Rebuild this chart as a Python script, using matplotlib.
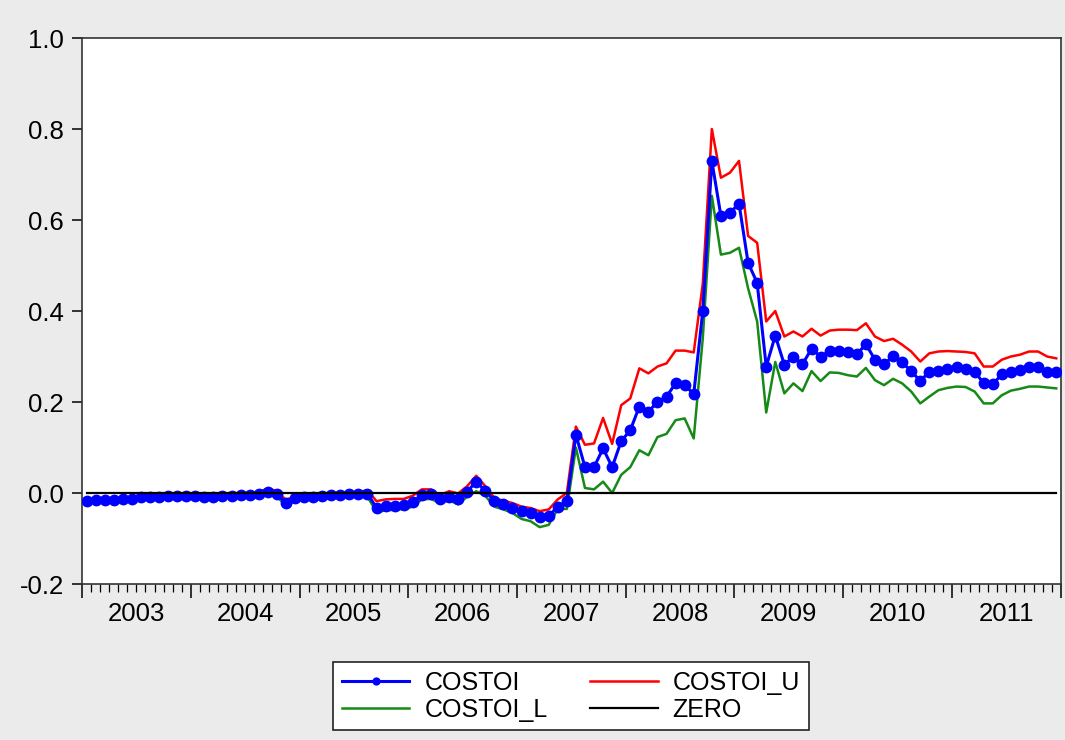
import numpy as np
import matplotlib
matplotlib.use("Agg")
import matplotlib.pyplot as plt
import matplotlib.transforms as mtransforms

plt.rcParams["font.family"] = ["Liberation Sans", "DejaVu Sans"]

# monthly observations, Jan 2003 .. Dec 2011
YEARS = list(range(2003, 2012))

COSTOI = [
    # 2003
    -0.017, -0.016, -0.016, -0.015, -0.014, -0.013, -0.009, -0.008, -0.008, -0.007, -0.007, -0.007,
    # 2004
    -0.007, -0.008, -0.008, -0.007, -0.006, -0.005, -0.004, -0.002, 0.003, -0.002, -0.022, -0.011,
    # 2005
    -0.009, -0.008, -0.007, -0.005, -0.004, -0.003, -0.003, -0.002, -0.032, -0.028, -0.028, -0.027,
    # 2006
    -0.020, -0.004, -0.003, -0.013, -0.008, -0.013, 0.003, 0.025, 0.005, -0.018, -0.025, -0.032,
    # 2007
    -0.040, -0.045, -0.052, -0.050, -0.030, -0.018, 0.128, 0.057, 0.057, 0.098, 0.057, 0.114,
    # 2008
    0.138, 0.190, 0.179, 0.200, 0.212, 0.241, 0.238, 0.217, 0.400, 0.730, 0.609, 0.616,
    # 2009
    0.636, 0.506, 0.462, 0.278, 0.346, 0.282, 0.300, 0.283, 0.317, 0.300, 0.312, 0.312,
    # 2010
    0.309, 0.305, 0.327, 0.293, 0.283, 0.301, 0.287, 0.268, 0.246, 0.267, 0.268, 0.272,
    # 2011
    0.276, 0.272, 0.267, 0.241, 0.239, 0.261, 0.267, 0.271, 0.276, 0.276, 0.267, 0.267,
]

COSTOI_U = [
    -0.013, -0.012, -0.012, -0.011, -0.010, -0.009, -0.005, -0.004, -0.004, -0.003, -0.003, -0.003,
    -0.003, -0.004, -0.004, -0.003, -0.002, -0.001, 0.000, 0.002, 0.010, 0.004, -0.015, -0.007,
    -0.005, -0.004, -0.003, -0.001, 0.000, 0.001, 0.002, 0.006, -0.018, -0.014, -0.013, -0.013,
    -0.006, 0.008, 0.008, -0.005, 0.004, -0.001, 0.015, 0.038, 0.015, -0.011, -0.017, -0.022,
    -0.030, -0.033, -0.040, -0.036, -0.014, 0.000, 0.146, 0.106, 0.109, 0.165, 0.108, 0.193,
    0.208, 0.274, 0.263, 0.278, 0.285, 0.313, 0.313, 0.309, 0.460, 0.800, 0.693, 0.704,
    0.730, 0.565, 0.550, 0.377, 0.400, 0.344, 0.355, 0.344, 0.361, 0.346, 0.357, 0.359,
    0.359, 0.358, 0.373, 0.344, 0.334, 0.339, 0.326, 0.311, 0.289, 0.307, 0.311, 0.312,
    0.311, 0.310, 0.307, 0.278, 0.278, 0.293, 0.300, 0.304, 0.311, 0.311, 0.300, 0.296,
]

COSTOI_L = [
    -0.022, -0.021, -0.021, -0.020, -0.019, -0.018, -0.013, -0.012, -0.012, -0.011, -0.011, -0.011,
    -0.011, -0.012, -0.012, -0.011, -0.010, -0.009, -0.008, -0.006, -0.002, -0.007, -0.029, -0.018,
    -0.014, -0.013, -0.012, -0.010, -0.009, -0.008, -0.008, -0.008, -0.042, -0.038, -0.037, -0.035,
    -0.030, -0.014, -0.013, -0.022, -0.016, -0.025, -0.008, 0.004, -0.006, -0.030, -0.036, -0.044,
    -0.057, -0.062, -0.075, -0.070, -0.035, -0.035, 0.100, 0.011, 0.008, 0.025, 0.000, 0.040,
    0.057, 0.094, 0.083, 0.123, 0.130, 0.160, 0.164, 0.120, 0.340, 0.653, 0.524, 0.528,
    0.539, 0.450, 0.377, 0.177, 0.288, 0.219, 0.241, 0.224, 0.268, 0.246, 0.265, 0.264,
    0.259, 0.256, 0.275, 0.248, 0.237, 0.251, 0.241, 0.223, 0.197, 0.212, 0.226, 0.231,
    0.234, 0.233, 0.223, 0.197, 0.197, 0.215, 0.225, 0.229, 0.234, 0.234, 0.232, 0.230,
]

ZERO = [0.0] * len(COSTOI)

Y_TICKS = [-0.2, 0.0, 0.2, 0.4, 0.6, 0.8, 1.0]

BG = "#ebebeb"
FS = 18.5


def main():
    n = len(COSTOI)
    t = np.arange(n)

    fig = plt.figure(figsize=(10.65, 7.4), dpi=100, facecolor=BG)
    ax = fig.add_axes([0.077, 0.2108, 0.919, 0.7378])
    ax.set_facecolor("white")

    l_mid, = ax.plot(t, COSTOI, color="#0000ff", lw=2.2, marker="o",
                     markersize=8.5, markeredgewidth=0, label="COSTOI", zorder=3)
    l_up, = ax.plot(t, COSTOI_U, color="#ff0000", lw=1.8, label="COSTOI_U", zorder=2)
    l_lo, = ax.plot(t, COSTOI_L, color="#168a16", lw=1.8, label="COSTOI_L", zorder=2)
    l_zero, = ax.plot(t, ZERO, color="black", lw=1.6, label="ZERO", zorder=4)

    ax.set_xlim(-0.5, n - 0.5)
    ax.set_ylim(-0.2, 1.0)

    # y axis
    ax.set_yticks(Y_TICKS)
    ax.set_yticklabels([f"{v:.1f}" for v in Y_TICKS], fontsize=FS)
    ax.tick_params(axis="y", direction="out", length=7, width=1.1, pad=6)

    # x axis: long ticks at year boundaries, short ones every month
    ax.set_xticks([-0.5 + 12 * k for k in range(len(YEARS) + 1)])
    ax.set_xticklabels([])
    ax.set_xticks(np.arange(-0.5, n, 1.0), minor=True)
    ax.tick_params(axis="x", which="major", direction="out", length=10, width=1.1)
    ax.tick_params(axis="x", which="minor", direction="out", length=5.5, width=0.9)

    trans = mtransforms.blended_transform_factory(ax.transData, ax.transAxes)
    for k, yr in enumerate(YEARS):
        ax.text(5.5 + 12 * k, -0.055, str(yr), transform=trans,
                ha="center", va="center", fontsize=FS)

    for s in ax.spines.values():
        s.set_color("#333333")
        s.set_linewidth(1.2)

    leg = fig.legend([l_mid, l_lo, l_up, l_zero],
                     ["COSTOI", "COSTOI_L", "COSTOI_U", "ZERO"],
                     ncol=2, loc="center", bbox_to_anchor=(0.536, 0.059),
                     bbox_transform=fig.transFigure, fontsize=18,
                     handlelength=2.7, columnspacing=1.7, labelspacing=0.1,
                     handletextpad=0.6, borderpad=0.35,
                     fancybox=False, framealpha=1, edgecolor="#222222",
                     markerscale=0.7)
    leg.get_frame().set_linewidth(1.2)

    fig.savefig("out.png", dpi=100, facecolor=BG)
    plt.close(fig)


if __name__ == "__main__":
    main()
